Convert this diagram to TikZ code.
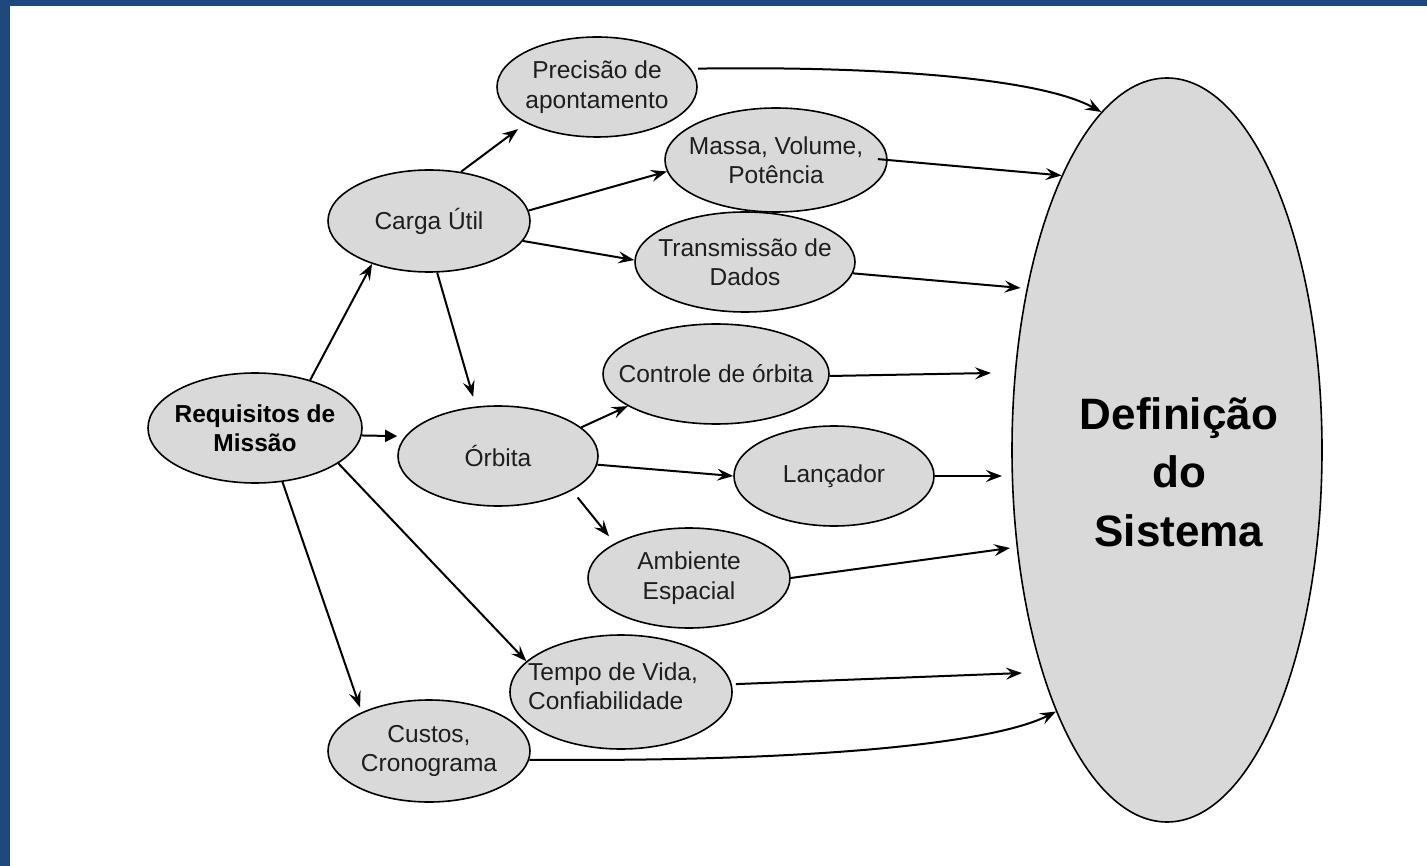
\documentclass[tikz,border=0pt]{standalone}
\usepackage{fontspec}
\setmainfont{Liberation Sans}
\usetikzlibrary{shapes.geometric,arrows.meta}
\definecolor{bubgray}{RGB}{217,217,217}
\definecolor{frameblue}{RGB}{31,73,125}
\definecolor{txtc}{RGB}{30,30,30}
\tikzset{
  bub/.style={ellipse, draw=black, line width=1.6pt, fill=bubgray, inner sep=0pt},
  lbl/.style={font=\fontsize{24.5}{29.5}\selectfont, align=center, text=txtc, inner sep=0pt},
  lblb/.style={font=\fontsize{24.5}{29.5}\selectfont\bfseries, align=center, text=black, inner sep=0pt},
  biglbl/.style={font=\fontsize{44}{58.5}\selectfont\bfseries, align=center, text=black, inner sep=0pt},
  arr/.style={line width=2pt, -{Stealth[length=16pt,width=12pt,inset=6pt]}},
  arrtri/.style={line width=2pt, -{Triangle[length=12pt,width=12pt]}},
}
\begin{document}
\begin{tikzpicture}[x=1pt,y=-1pt]
\useasboundingbox (0,0) rectangle (1427,866);
\fill[white] (0,0) rectangle (1427,866);
\fill[frameblue] (0,0) rectangle (1427,6);
\fill[frameblue] (0,0) rectangle (10,866);

\node[bub, minimum width=214, minimum height=110, label={[lblb]center:Requisitos de\\Missão}] (req) at (255,428) {};
\node[bub, minimum width=202, minimum height=102, label={[lbl]center:Carga Útil}] (carga) at (429,221) {};
\node[bub, minimum width=200, minimum height=100, label={[lbl]center:Precisão de\\apontamento}] (prec) at (597,87) {};
\node[bub, minimum width=222, minimum height=104, label={[lbl]center:Massa, Volume,\\Potência}] (massa) at (776,160) {};
\node[bub, minimum width=220, minimum height=100, label={[lbl]center:Transmissão de\\Dados}] (trans) at (745,262) {};
\node[bub, minimum width=226, minimum height=100, label={[lbl]center:Controle de órbita}] (ctrl) at (716,374) {};
\node[bub, minimum width=200, minimum height=100, label={[lbl]center:Órbita}] (orb) at (498,456) {};
\node[bub, minimum width=200, minimum height=100, label={[lbl]center:Lançador}] (lanc) at (834,476) {};
\node[bub, minimum width=202, minimum height=100, label={[lbl]center:Ambiente\\Espacial}] (amb) at (689,578) {};
\node[bub, minimum width=222, minimum height=114, label={[lbl, align=left, xshift=-8pt, yshift=6pt]center:Tempo de Vida,\\Confiabilidade}] (tempo) at (621,692) {};
\node[bub, minimum width=202, minimum height=102, label={[lbl]center:Custos,\\Cronograma}] (custos) at (429,751) {};
\node[bub, minimum width=310, minimum height=744, label={[biglbl, xshift=12pt, yshift=-22pt]center:Definição\\do\\Sistema}] (big) at (1167,450) {};

\coordinate (e1) at (991,373);
\coordinate (e2) at (1002,476);
\coordinate (e3) at (1010,548);
\coordinate (e4) at (1022,673);

\draw[arr] (req.41) -- (carga.217);
\draw[arrtri, shorten >=8pt] (req.-4) -- (orb.168);
\draw[arr] (req.-23.5) -- (tempo.162.7);
\draw[arr, shorten >=5pt] (req.-63) -- (custos.150.6);
\draw[arr, shorten >=10pt] (carga.57) -- (prec.207);
\draw[arr] (carga.6) -- (massa.186);
\draw[arr] (carga.-12) -- (trans.179);
\draw[arr, shorten >=10pt] (carga.-81) -- (orb.114);
\draw[arr] (orb.19) -- (ctrl.200);
\draw[arr] (orb.-5) -- (lanc.180);
\draw[arr, shorten <=9pt, shorten >=9pt] (orb.-25) -- (amb.155);
\draw[arr, shorten <=7pt] (prec.11.6) .. controls (880,66) and (1040,78) .. (big.101);
\draw[arr, shorten <=-10pt] (massa.0) -- (big.111.5);
\draw[arr, shorten >=6pt] (trans.-6) -- (big.131.8);
\draw[arr] (ctrl.-1) -- (e1);
\draw[arr] (lanc.0) -- (e2);
\draw[arr] (amb.0) -- (e3);
\draw[arr, shorten <=4pt] (tempo.4) -- (e4);
\draw[arr] (custos.-5) .. controls (800,762) and (990,745) .. (big.247);
\end{tikzpicture}
\end{document}
